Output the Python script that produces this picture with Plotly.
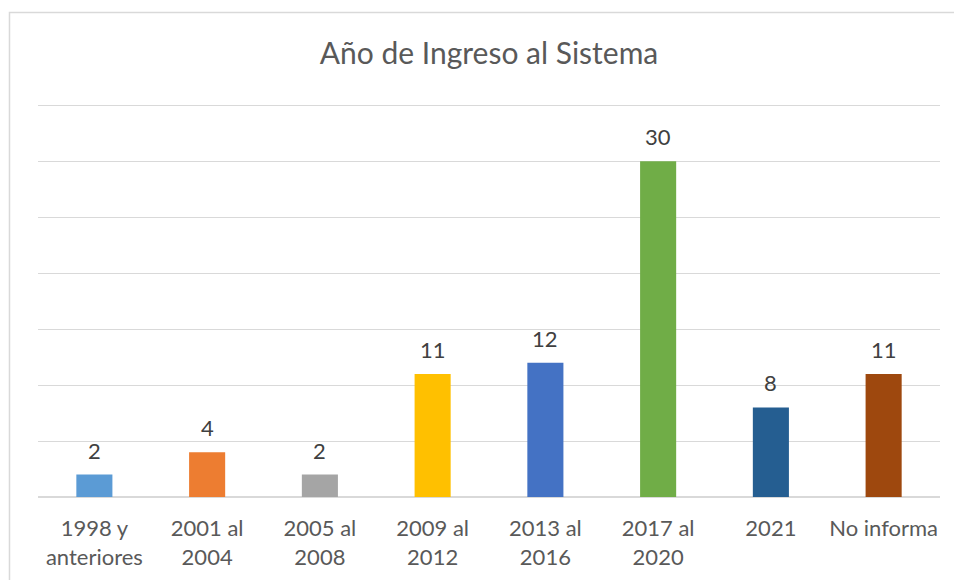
import plotly.graph_objects as go

categorias = ["1998 y<br>anteriores", "2001 al<br>2004", "2005 al<br>2008", "2009 al<br>2012",
              "2013 al<br>2016", "2017 al<br>2020", "2021", "No informa"]
valores = [2, 4, 2, 11, 12, 30, 8, 11]
colores = ["#5B9BD5", "#ED7D31", "#A5A5A5", "#FFC000", "#4472C4", "#70AD47", "#255E91", "#9E480E"]
titulo = "Año de Ingreso al Sistema"

fuente = "Lato, 'Open Sans', sans-serif"

fig = go.Figure()
fig.add_trace(go.Bar(x=categorias, y=valores, marker=dict(color=colores, line=dict(width=0)),
                     hoverinfo="x+y"))

# etiquetas de datos arriba de las barras (por indice, "2021" se leeria como numero)
for i, v in enumerate(valores):
    fig.add_annotation(x=i, y=v, text=str(v), showarrow=False, yanchor="bottom", yshift=9,
                       font=dict(family=fuente, size=22, color="#404040"))

# borde exterior del grafico
fig.add_shape(type="rect", xref="paper", yref="paper", x0=-0.0316, x1=1.03, y0=-0.25, y1=1.2266,
              line=dict(color="#D9D9D9", width=1.5), fillcolor="rgba(0,0,0,0)", layer="below")

fig.update_layout(
    width=954, height=580,
    margin=dict(l=38, r=14, t=102, b=83),
    paper_bgcolor="white", plot_bgcolor="white",
    title=dict(text=titulo, x=0.5, xref="paper", y=1 - 53 / 580, yanchor="middle",
               font=dict(family=fuente, size=30, color="#595959")),
    bargap=0.68,
    showlegend=False,
    font=dict(family=fuente),
)
fig.update_xaxes(type="category", range=[-0.5, len(categorias) - 0.5], automargin=False,
                 showline=False, showgrid=False, ticks="", ticklabelstandoff=16,
                 tickfont=dict(family=fuente, size=22, color="#595959"))
# rango un poco mayor a 35 para que se dibuje la linea de 35
fig.update_yaxes(range=[0, 35.3], dtick=5, showticklabels=False, showgrid=True, automargin=False,
                 gridcolor="#D9D9D9", gridwidth=1.3, zeroline=True, zerolinecolor="#D9D9D9",
                 zerolinewidth=1.5, showline=False)

fig.write_html("out.html", config={"displayModeBar": False},
               post_script="document.body.style.margin='0';")
